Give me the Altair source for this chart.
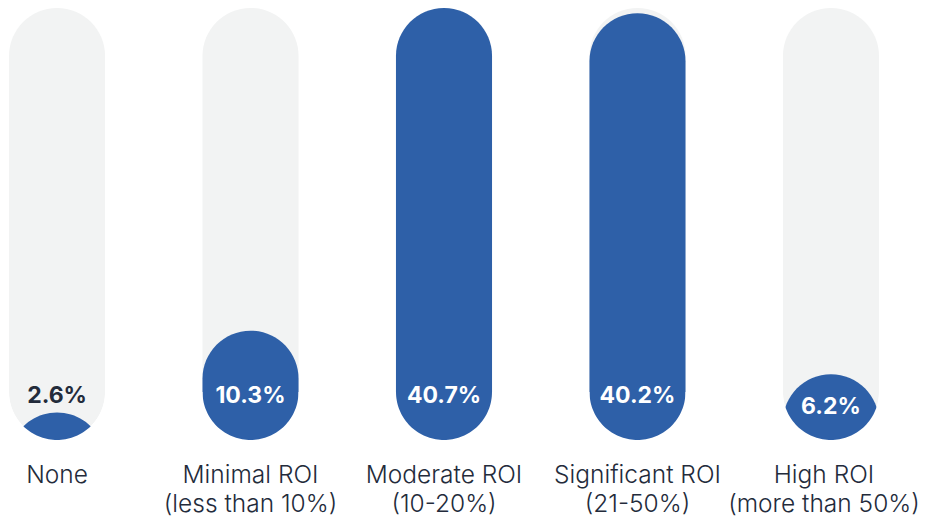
import altair as alt
import pandas as pd
import numpy as np

categories = [
    "None",
    "Minimal ROI|(less than 10%)",
    "Moderate ROI|(10-20%)",
    "Significant ROI|(21-50%)",
    "High ROI|(more than 50%)",
]
values = [2.6, 10.3, 40.7, 40.2, 6.2]
labels = ["2.6%", "10.3%", "40.7%", "40.2%", "6.2%"]

df = pd.DataFrame({"category": categories, "value": values, "label": labels})

BLUE = "#2e60a8"
GRAY = "#f2f3f3"
DARK = "#232b3b"
FONT = "Inter"

vmax = max(values)
bar_w = 96

# white mask shape: square box minus the pill's bottom half-disk (symbol units -1..1)
theta = np.linspace(np.pi / 2, -np.pi / 2, 73)
arc = " ".join(f"L {np.sin(t):.4f} {(-1 + np.cos(t)):.4f}" for t in theta)
mask_path = f"M -1.06 -1 L -1.06 0.06 L 1.06 0.06 L 1.06 -1 {arc} Z"

y_scale = alt.Scale(domain=[0, vmax], nice=False, zero=True)

x_enc = alt.X(
    "category:N",
    sort=categories,
    scale=alt.Scale(paddingInner=0.5035, paddingOuter=0),
    axis=alt.Axis(
        title=None,
        labelExpr="split(datum.value, '|')",
        labelAngle=0,
        labelFontSize=24.5,
        labelFont=FONT,
        labelFontWeight=300,
        labelColor=DARK,
        labelLineHeight=29,
        labelPadding=23,
        labelOffset={
            "condition": {"test": f"datum.value == '{categories[-1]}'", "value": -7},
            "value": 0,
        },
        domain=False,
        ticks=False,
        grid=False,
        labelLimit=400,
    ),
)

base = alt.Chart(df).encode(x=x_enc)

pill = base.mark_bar(cornerRadius=48, color=GRAY).transform_calculate(
    full=str(vmax), zero="0"
).encode(
    y=alt.Y("full:Q", scale=y_scale, axis=None),
    y2="zero:Q",
)

fill = base.mark_bar(cornerRadius=48, color=BLUE, clip=True).transform_calculate(
    lower="min(-1, datum.value - 12)"
).encode(
    y=alt.Y("value:Q", scale=y_scale, axis=None),
    y2="lower:Q",
)

mask = base.mark_point(
    shape=mask_path, size=bar_w ** 2, filled=True, color="white", opacity=1, strokeWidth=0
).transform_calculate(zero="0").encode(
    y=alt.Y("zero:Q", scale=y_scale, axis=None)
)

text = base.mark_text(
    font=FONT, fontSize=23, fontWeight="bold", baseline="middle"
).transform_calculate(
    ly="datum.value < 4 ? 4.15 : min(4.15, datum.value / 2)"
).encode(
    y=alt.Y("ly:Q", scale=y_scale, axis=None),
    text="label:N",
    color=alt.condition("datum.value >= 4", alt.value("white"), alt.value(DARK)),
)

chart = alt.layer(pill, fill, mask, text).properties(
    width=870,
    height=432,
    autosize=alt.AutoSizeParams(type="none"),
    padding={"left": 1, "top": 0, "right": 41, "bottom": 79},
).configure_view(stroke=None)

chart.save("out.html", embed_options={"renderer": "svg", "actions": False})
